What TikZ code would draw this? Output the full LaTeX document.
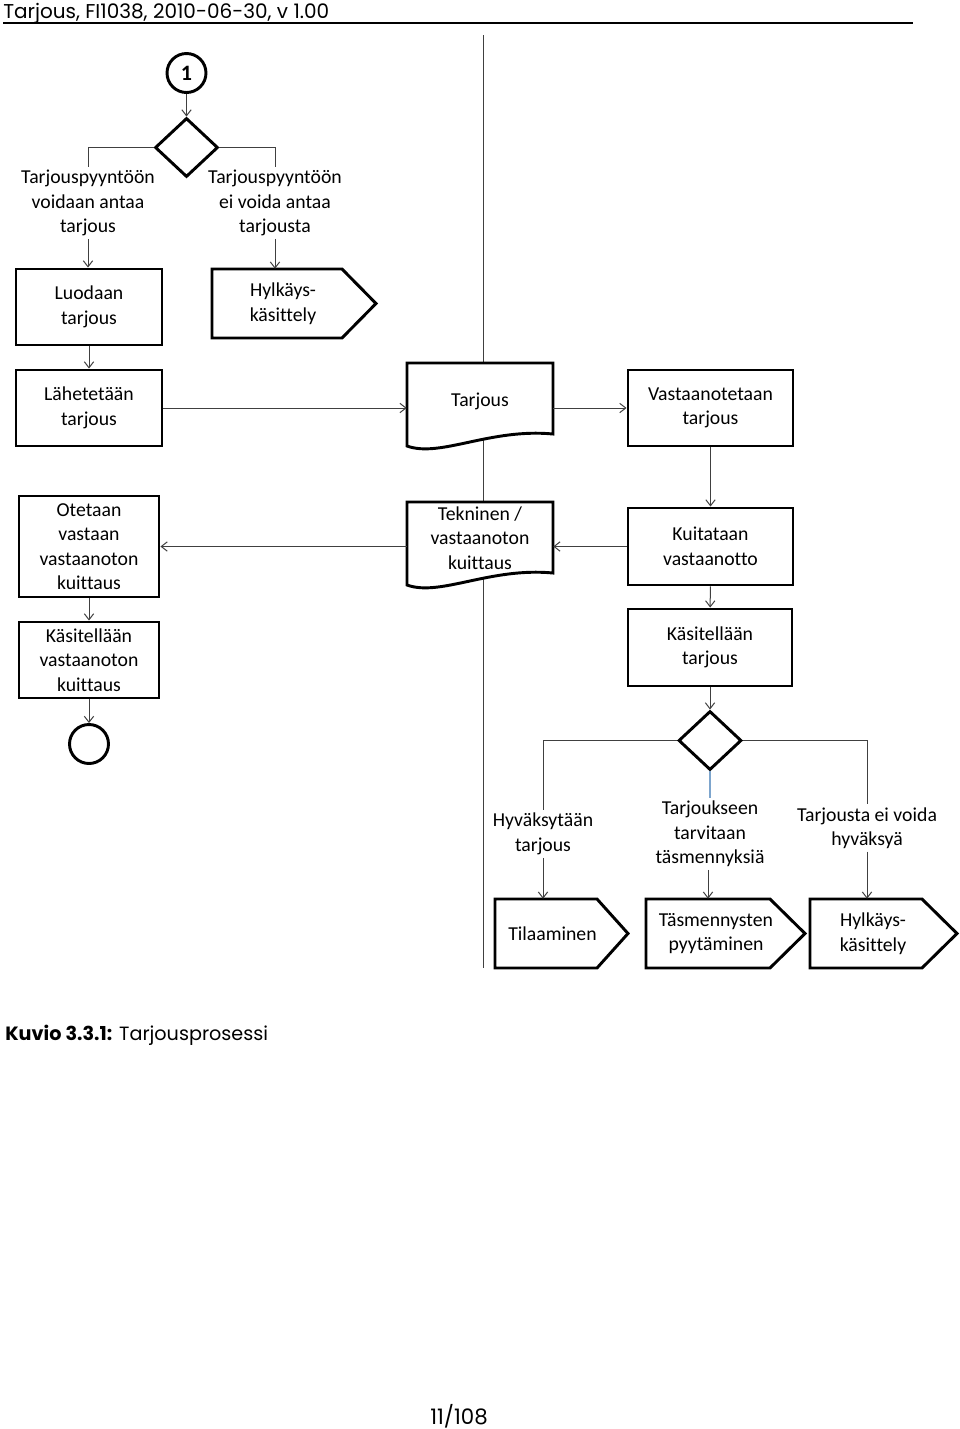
\documentclass[tikz,border=0pt]{standalone}
\usepackage{fontspec}
\setmainfont{Carlito}[Ligatures=NoCommon]
\newfontfamily\gothic{Poppins}
\usetikzlibrary{arrows.meta,shapes.geometric}
\newdimen\unitpx
\unitpx=0.75pt
\begin{document}
\begin{tikzpicture}[x=0.75pt,y=-0.75pt,
  txt/.style={align=center,font=\fontsize{14.8}{18.4}\selectfont,inner sep=2pt},
  box/.style={txt,draw,line width=2.2pt,inner sep=0pt},
  shapeline/.style={draw,line width=2.2pt,fill=white,line join=miter},
  conn/.style={draw=black!75,line width=0.75pt},
  arr/.style={conn,-{Straight Barb[length=4.5pt,width=7pt]}},
  blueline/.style={draw={rgb,255:red,125;green,165;blue,205},line width=0.9pt},
  ring/.style={circle,draw,line width=2.2pt,inner sep=0pt,minimum size=39\unitpx},
  decision/.style={diamond,draw,line width=2.2pt,inner sep=0pt,minimum width=63\unitpx,minimum height=59\unitpx},
  gtxt/.style={inner sep=0pt,font=\gothic\fontsize{15}{18}\selectfont}
]
\useasboundingbox (0,0) rectangle (960,1429);

% header
\node[gtxt,anchor=base west] (hdr) at (3,18) {Tarjous, FI1038, 2010-06-30, v 1.00};
\draw[line width=0.9pt] (3,23) -- (913,23);

% swimlane separator
\draw[conn] (483,35) -- (483,968);

% top part
\node[ring,font=\bfseries\fontsize{16.5}{18}\selectfont] (c1) at (186.5,73) {1};
\node[decision] (d1) at (186.5,147.5) {};
\draw[arr] (c1) -- (d1);

\node[txt] (l1) at (88,203) {Tarjouspyyntöön\\voidaan antaa\\tarjous};
\node[txt] (l2) at (275,203) {Tarjouspyyntöön\\ei voida antaa\\tarjousta};
\draw[conn] (d1.west) -| (l1.north);
\draw[conn] (d1.east) -| (l2.north);

\node[box,minimum width=146\unitpx,minimum height=76\unitpx] (luo) at (89,307) {Luodaan\\tarjous};
\draw[shapeline] (212,269) -- (342,269) -- (376,303.5) -- (342,338) -- (212,338) -- cycle;
\node[txt,minimum width=142\unitpx,minimum height=69\unitpx,inner sep=0pt] (hyl1) at (283,303.5) {Hylkäys-\\käsittely};
\draw[arr] (l1.south) -- (l1.south |- luo.north);
\draw[arr] (l2.south) -- (l2.south |- hyl1.north);

\node[box,minimum width=146\unitpx,minimum height=76\unitpx] (lah) at (89,408) {Lähetetään\\tarjous};
\draw[arr] (luo) -- (lah);

% Tarjous document
\draw[shapeline] (407,363) -- (553,363) -- (553,434) .. controls (490,428) and (440,458) .. (407,446) -- cycle;
\node[txt,minimum width=146\unitpx,minimum height=72\unitpx,inner sep=0pt] (tarj) at (480,401) {Tarjous};

\node[box,minimum width=165\unitpx,minimum height=76\unitpx] (vas) at (710.5,408) {Vastaanotetaan\\tarjous};
\draw[arr] (lah.east) -- (lah.east -| tarj.west);
\draw[arr] (tarj.east |- vas.west) -- (vas.west);

\node[box,minimum width=165\unitpx,minimum height=77\unitpx] (kui) at (710.5,546.5) {Kuitataan\\vastaanotto};
\draw[arr] (vas) -- (kui);

% Tekninen document
\draw[shapeline] (407,502) -- (553,502) -- (553,573) .. controls (490,567) and (440,597) .. (407,585) -- cycle;
\node[txt,minimum width=146\unitpx,minimum height=80\unitpx,inner sep=0pt] (tek) at (480,538) {Tekninen /\\vastaanoton\\kuittaus};
\draw[arr] (kui.west) -- (kui.west -| tek.east);

\node[box,minimum width=140\unitpx,minimum height=101\unitpx] (oto) at (89,546.5) {Otetaan\\vastaan\\vastaanoton\\kuittaus};
\draw[arr] (tek.west |- oto.east) -- (oto.east);

\node[box,minimum width=140\unitpx,minimum height=76\unitpx] (kas1) at (89,660) {Käsitellään\\vastaanoton\\kuittaus};
\draw[arr] (oto) -- (kas1);
\node[ring] (c2) at (89,744) {};
\draw[arr] (kas1) -- (c2);

\node[box,minimum width=164\unitpx,minimum height=77\unitpx] (kas2) at (710,647.5) {Käsitellään\\tarjous};
\draw[arr] (kui) -- (kas2);
\node[decision] (d2) at (710,740.5) {};
\draw[arr] (kas2) -- (d2);

% lower branches
\node[txt] (m1) at (543,834) {Hyväksytään\\tarjous};
\node[txt] (m2) at (710,834) {Tarjoukseen\\tarvitaan\\täsmennyksiä};
\node[txt] (m3) at (867,828) {Tarjousta ei voida\\hyväksyä};
\draw[conn] (d2.west) -| (m1.north);
\draw[blueline] (d2.south) -- (m2.north);
\draw[conn] (d2.east) -| (m3.north);

\draw[shapeline] (495,899) -- (597,899) -- (628,933.5) -- (597,968) -- (495,968) -- cycle;
\node[txt,minimum width=115\unitpx,minimum height=69\unitpx,inner sep=0pt] (til) at (552.5,933.5) {Tilaaminen};
\draw[shapeline] (646,899) -- (770,899) -- (805,933.5) -- (770,968) -- (646,968) -- cycle;
\node[txt,minimum width=140\unitpx,minimum height=69\unitpx,inner sep=0pt] (tas) at (716,933.5) {Täsmennysten\\pyytäminen};
\draw[shapeline] (810,899) -- (922,899) -- (957,933.5) -- (922,968) -- (810,968) -- cycle;
\node[txt,minimum width=126\unitpx,minimum height=69\unitpx,inner sep=0pt] (hyl2) at (873,933.5) {Hylkäys-\\käsittely};

\draw[arr] (m1.south) -- (m1.south |- til.north);
\draw[arr] ([xshift=-1.5pt]m2.south) -- ([xshift=-1.5pt]m2.south |- tas.north);
\draw[arr] (m3.south) -- (m3.south |- hyl2.north);

% caption and page number
\node[gtxt,anchor=base west,font=\gothic\fontsize{14.4}{18}\selectfont] (cap) at (5,1040) {\textbf{Kuvio 3.3.1:} Tarjousprosessi};
\node[gtxt,anchor=base,font=\gothic\fontsize{16}{19}\selectfont] (pg) at (459,1424) {11/108};
\end{tikzpicture}
\end{document}
